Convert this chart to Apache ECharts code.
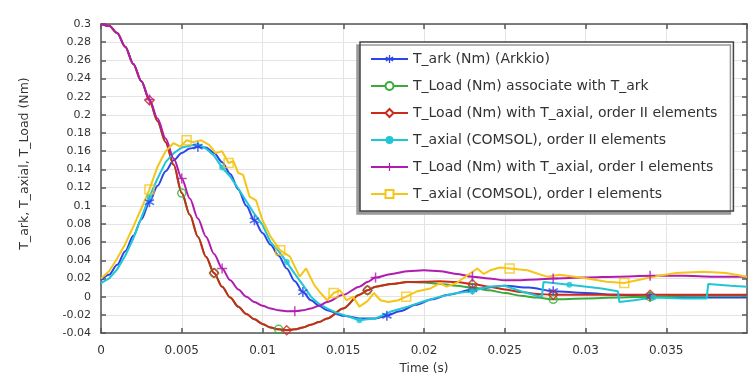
<!DOCTYPE html>
<html>
<head>
<meta charset="utf-8">
<script src="https://cdn.jsdelivr.net/npm/echarts@6/dist/echarts.min.js"></script>
<style>
  html, body { margin: 0; padding: 0; background: #fff; }
  #chart { width: 751px; height: 381px; }
</style>
</head>
<body>
<div id="chart"></div>
<script>
// T_ark (Nm) (Arkkio)
const tArk = [0, 0.0005, 0.001, 0.0015, 0.002, 0.0025, 0.003, 0.0035, 0.004, 0.0045, 0.005, 0.0055, 0.006, 0.0065, 0.007, 0.0075, 0.008, 0.0085, 0.009, 0.0095, 0.01, 0.0105, 0.011, 0.0115, 0.012, 0.0125, 0.013, 0.0135, 0.014, 0.015, 0.016, 0.017, 0.0177, 0.0185, 0.0195, 0.0205, 0.0215, 0.023, 0.025, 0.0265, 0.028, 0.03, 0.032, 0.034, 0.037, 0.04];
const yArk = [0.018, 0.024, 0.035, 0.05, 0.067, 0.085, 0.104, 0.122, 0.138, 0.15, 0.158, 0.163, 0.165, 0.164, 0.158, 0.148, 0.135, 0.118, 0.1, 0.084, 0.07, 0.057, 0.045, 0.031, 0.017, 0.005, -0.004, -0.01, -0.015, -0.021, -0.024, -0.024, -0.021, -0.016, -0.009, -0.003, 0.002, 0.008, 0.012, 0.01, 0.006, 0.004, 0.002, 0, -0.001, -0.001];

// T_Load curves share one time base
const tLoad = [0, 0.0005, 0.001, 0.0015, 0.002, 0.0025, 0.003, 0.0035, 0.004, 0.0045, 0.005, 0.0055, 0.006, 0.0065, 0.007, 0.0075, 0.008, 0.0085, 0.009, 0.0095, 0.01, 0.0105, 0.011, 0.0115, 0.012, 0.0125, 0.013, 0.0135, 0.014, 0.015, 0.016, 0.0165, 0.017, 0.018, 0.019, 0.02, 0.021, 0.022, 0.023, 0.024, 0.025, 0.026, 0.027, 0.028, 0.03, 0.032, 0.034, 0.036, 0.038, 0.04];
const yLoadArk = [0.3, 0.298, 0.29, 0.275, 0.256, 0.237, 0.216, 0.193, 0.17, 0.145, 0.114, 0.09, 0.066, 0.044, 0.026, 0.011, -0.001, -0.011, -0.019, -0.025, -0.03, -0.034, -0.036, -0.037, -0.036, -0.034, -0.031, -0.028, -0.024, -0.013, 0.002, 0.007, 0.011, 0.014, 0.016, 0.0155, 0.014, 0.012, 0.01, 0.007, 0.004, 0.001, -0.001, -0.003, -0.002, -0.001, 0, 0.001, 0.001, 0.001];
const yLoad2 = [0.3, 0.298, 0.29, 0.275, 0.256, 0.237, 0.216, 0.193, 0.17, 0.145, 0.114, 0.09, 0.066, 0.044, 0.026, 0.011, -0.001, -0.011, -0.019, -0.025, -0.03, -0.034, -0.036, -0.037, -0.036, -0.034, -0.031, -0.028, -0.024, -0.013, 0.002, 0.007, 0.011, 0.014, 0.016, 0.0165, 0.017, 0.016, 0.014, 0.011, 0.008, 0.005, 0.003, 0.002, 0.002, 0.002, 0.002, 0.002, 0.002, 0.002];
const yLoad1 = [0.3, 0.298, 0.29, 0.275, 0.256, 0.237, 0.217, 0.196, 0.174, 0.152, 0.13, 0.108, 0.086, 0.066, 0.047, 0.031, 0.018, 0.008, 0, -0.006, -0.01, -0.013, -0.015, -0.016, -0.016, -0.015, -0.013, -0.01, -0.006, 0.002, 0.011, 0.016, 0.021, 0.025, 0.028, 0.029, 0.028, 0.025, 0.022, 0.02, 0.018, 0.018, 0.019, 0.02, 0.021, 0.022, 0.023, 0.023, 0.022, 0.022];

// T_axial (COMSOL), order II elements
const tAx2 = [0, 0.0005, 0.001, 0.0015, 0.002, 0.0025, 0.003, 0.0035, 0.004, 0.0045, 0.005, 0.0055, 0.006, 0.0065, 0.007, 0.0075, 0.008, 0.0085, 0.009, 0.0095, 0.01, 0.0105, 0.011, 0.0115, 0.012, 0.0125, 0.013, 0.0135, 0.014, 0.0145, 0.015, 0.0155, 0.016, 0.0165, 0.017, 0.0175, 0.018, 0.019, 0.02, 0.021, 0.022, 0.023, 0.024, 0.025, 0.026, 0.027, 0.0273, 0.0274, 0.029, 0.031, 0.032, 0.0321, 0.033, 0.0342, 0.036, 0.0375, 0.0376, 0.039, 0.04];
const yAx2 = [0.015, 0.02, 0.03, 0.045, 0.064, 0.087, 0.11, 0.13, 0.148, 0.158, 0.164, 0.166, 0.168, 0.163, 0.155, 0.142, 0.132, 0.119, 0.105, 0.091, 0.079, 0.06, 0.05, 0.038, 0.025, 0.013, 0, -0.008, -0.013, -0.017, -0.02, -0.023, -0.026, -0.025, -0.024, -0.02, -0.016, -0.011, -0.005, 0, 0.004, 0.006, 0.011, 0.012, 0.006, 0.001, 0, 0.016, 0.013, 0.009, 0.006, -0.006, -0.004, -0.001, -0.002, -0.002, 0.014, 0.012, 0.011];

// T_axial (COMSOL), order I elements
const tAx1 = [0, 0.0005, 0.001, 0.0015, 0.002, 0.0025, 0.003, 0.0035, 0.004, 0.0045, 0.0049, 0.0053, 0.0057, 0.0062, 0.0067, 0.0071, 0.0075, 0.0079, 0.0082, 0.0085, 0.0088, 0.0092, 0.0096, 0.01, 0.0105, 0.0111, 0.0117, 0.0123, 0.0127, 0.0132, 0.0136, 0.014, 0.0144, 0.0148, 0.0152, 0.0156, 0.016, 0.0165, 0.0169, 0.0173, 0.0178, 0.0184, 0.0189, 0.0196, 0.0204, 0.021, 0.0214, 0.022, 0.0229, 0.0233, 0.0237, 0.0241, 0.0247, 0.0253, 0.0264, 0.0276, 0.0284, 0.0301, 0.0313, 0.0324, 0.0342, 0.0356, 0.0373, 0.0387, 0.04];
const yAx1 = [0.02, 0.028, 0.042, 0.058, 0.077, 0.097, 0.118, 0.143, 0.16, 0.169, 0.165, 0.172, 0.17, 0.172, 0.167, 0.158, 0.16, 0.147, 0.149, 0.136, 0.134, 0.11, 0.106, 0.084, 0.066, 0.051, 0.044, 0.022, 0.031, 0.013, 0.004, -0.004, 0.004, 0.007, -0.004, 0, -0.011, -0.005, 0.004, -0.004, -0.006, -0.004, 0, 0.006, 0.009, 0.015, 0.011, 0.015, 0.026, 0.031, 0.025, 0.029, 0.032, 0.031, 0.029, 0.022, 0.024, 0.02, 0.0165, 0.015, 0.022, 0.026, 0.0275, 0.026, 0.022];

// indices of the points carrying a marker
const marksArk = [6, 12, 19, 25, 32, 37, 40, 43];
const marksLoadArk = [10, 14, 22, 31, 38, 43, 46];
const marksLoad2 = [6, 14, 23, 31, 38, 43, 46];
const marksAx2 = [6, 15, 23, 32, 41, 48, 53];
const marksLoad1 = [6, 10, 15, 24, 32, 38, 43, 46];
const marksAx1 = [6, 11, 17, 25, 32, 42, 53, 59];

const starPath = 'path://M8.5 0L11.5 0L11.5 20L8.5 20Z M0.59 6.3L2.09 3.7L19.41 13.7L17.91 16.3Z M17.91 3.7L19.41 6.3L2.09 16.3L0.59 13.7Z';
const plusPath = 'path://M8.5 0L11.5 0L11.5 8.5L20 8.5L20 11.5L11.5 11.5L11.5 20L8.5 20L8.5 11.5L0 11.5L0 8.5L8.5 8.5Z';

const curves = [
  { name: 'T_ark (Nm) (Arkkio)', t: tArk, y: yArk, marks: marksArk, color: '#2b45e8', symbol: starPath, markSymbol: starPath, size: 10, hollow: false, smooth: 0.3 },
  { name: 'T_Load (Nm) associate with T_ark', t: tLoad, y: yLoadArk, marks: marksLoadArk, color: '#3aaa3a', symbol: 'emptyCircle', markSymbol: 'circle', size: 8, hollow: true, smooth: 0.3 },
  { name: 'T_Load (Nm) with T_axial, order II elements', t: tLoad, y: yLoad2, marks: marksLoad2, color: '#cc2a1c', symbol: 'emptyDiamond', markSymbol: 'diamond', size: 9, hollow: true, smooth: 0.3 },
  { name: 'T_axial (COMSOL), order II elements', t: tAx2, y: yAx2, marks: marksAx2, color: '#1fc6d6', symbol: 'circle', markSymbol: 'circle', size: 6, hollow: false, smooth: false },
  { name: 'T_Load (Nm) with T_axial, order I elements', t: tLoad, y: yLoad1, marks: marksLoad1, color: '#b01cb0', symbol: plusPath, markSymbol: plusPath, size: 10, hollow: false, smooth: 0.3 },
  { name: 'T_axial (COMSOL), order I elements', t: tAx1, y: yAx1, marks: marksAx1, color: '#f5c518', symbol: 'emptyRect', markSymbol: 'rect', size: 9, hollow: true, smooth: false }
];

const pairs = (t, y) => t.map((v, i) => [v, y[i]]);

const lineSeries = curves.map(c => ({
  name: c.name,
  type: 'line',
  data: pairs(c.t, c.y),
  symbol: c.symbol,
  showSymbol: false,
  smooth: c.smooth,
  smoothMonotone: 'x',
  lineStyle: { color: c.color, width: 2 },
  itemStyle: { color: c.color },
  emphasis: { disabled: true },
  z: 2
}));

const markSeries = curves.map(c => ({
  name: c.name + ' markers',
  type: 'scatter',
  data: c.marks.map(i => [c.t[i], c.y[i]]),
  symbol: c.markSymbol,
  symbolSize: c.size,
  itemStyle: c.hollow
    ? { color: 'rgba(0,0,0,0)', borderColor: c.color, borderWidth: 1.5 }
    : { color: c.color },
  emphasis: { disabled: true },
  silent: true,
  z: 3
}));

const frame = '#555';
const labelFont = { fontFamily: 'DejaVu Sans', color: '#333' };
const frameLine = { show: true, onZero: false, lineStyle: { color: frame, width: 1.5 } };
const innerTick = { show: true, inside: true, length: 5, lineStyle: { color: frame, width: 1.5 } };

const chart = echarts.init(document.getElementById('chart'));
chart.setOption({
  animation: false,
  backgroundColor: '#fff',
  grid: { left: 101, right: 4, top: 24, bottom: 48, show: false },
  legend: {
    data: curves.map(c => c.name),
    orient: 'vertical',
    left: 360,
    top: 42,
    itemWidth: 37,
    itemHeight: 10,
    itemGap: 13,
    padding: [10, 16, 10, 10],
    backgroundColor: '#fff',
    borderColor: '#444',
    borderWidth: 1.5,
    shadowColor: '#999',
    shadowOffsetX: -3,
    shadowOffsetY: 3,
    shadowBlur: 0,
    textStyle: { ...labelFont, fontSize: 14 },
    selectedMode: false
  },
  xAxis: [
    {
      type: 'value', min: 0, max: 0.04, interval: 0.005,
      name: 'Time (s)', nameLocation: 'middle', nameGap: 30,
      nameTextStyle: { ...labelFont, fontSize: 12 },
      axisLine: frameLine,
      axisTick: innerTick,
      axisLabel: { ...labelFont, fontSize: 12, margin: 12, showMaxLabel: false },
      splitLine: { show: true, lineStyle: { color: '#e4e4e4', width: 1 } }
    },
    {
      type: 'value', min: 0, max: 0.04, interval: 0.005, position: 'top',
      axisLine: frameLine,
      axisTick: innerTick,
      axisLabel: { show: false },
      splitLine: { show: false }
    }
  ],
  yAxis: [
    {
      type: 'value', min: -0.04, max: 0.3, interval: 0.02,
      name: 'T_ark, T_axial, T_Load (Nm)', nameLocation: 'middle', nameRotate: 90, nameGap: 70,
      nameTextStyle: { ...labelFont, fontSize: 12.5, padding: [0, 0, 0, 30] },
      axisLine: frameLine,
      axisTick: innerTick,
      axisLabel: { ...labelFont, fontSize: 11, margin: 10 },
      splitLine: { show: true, lineStyle: { color: '#e4e4e4', width: 1 } }
    },
    {
      type: 'value', min: -0.04, max: 0.3, interval: 0.02, position: 'right',
      axisLine: frameLine,
      axisTick: innerTick,
      axisLabel: { show: false },
      splitLine: { show: false }
    }
  ],
  series: [...lineSeries, ...markSeries]
});
</script>
</body>
</html>
